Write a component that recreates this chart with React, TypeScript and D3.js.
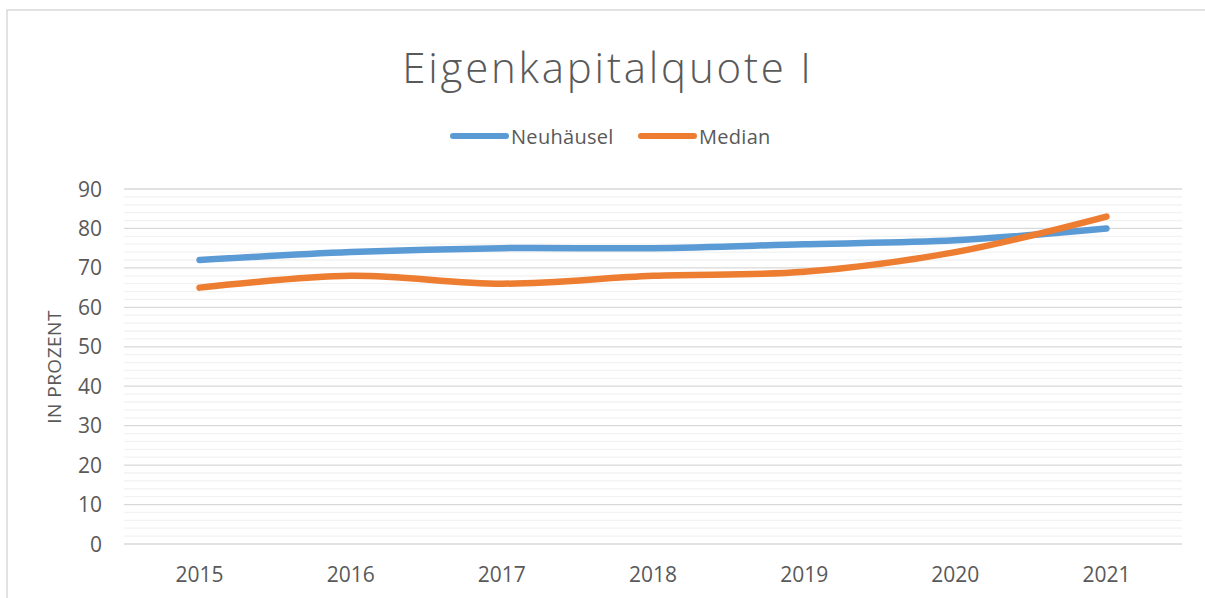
import React from "react";
import * as d3 from "d3";

const years = ["2015", "2016", "2017", "2018", "2019", "2020", "2021"];
const neuhaeusel = [72, 74, 75, 75, 76, 77, 80];
const median = [65, 68, 66, 68, 69, 74, 83];
const yTicks = [0, 10, 20, 30, 40, 50, 60, 70, 80, 90];
const minorTicks = d3.range(0, 91, 2).filter((v) => v % 10 !== 0);

const series = [
  { name: "Neuhäusel", values: neuhaeusel, color: "#5b9bd5" },
  { name: "Median", values: median, color: "#ed7d31" },
];

export default function App() {
  const W = 1205, H = 598;
  const left = 124, right = 1182, top = 189, bottom = 544;
  const x = d3.scaleBand<string>().domain(years).range([left, right]);
  const y = d3.scaleLinear().domain([0, 90]).range([bottom, top]);
  const line = d3
    .line<number>()
    .x((_, i) => (x(years[i]) as number) + x.bandwidth() / 2)
    .y((d) => y(d))
    .curve(d3.curveCatmullRom.alpha(0.5));
  const font = "'Open Sans', sans-serif";
  const txt = "#595959";
  return (
    <svg width={W} height={H} style={{ position: "absolute", left: 0, top: 0 }} fontFamily={font}>
      <rect x={0} y={0} width={W} height={H} fill="#fff" />
      <rect x={7} y={10} width={W + 20} height={H + 20} fill="none" stroke="#d9d9d9" strokeWidth={1.5} />
      <text x={608} y={83} textAnchor="middle" fontSize={42} fill={txt} fontWeight={300} letterSpacing={2.8}>
        Eigenkapitalquote I
      </text>
      {/* legend */}
      {[
        { s: series[0], x0: 453 },
        { s: series[1], x0: 641 },
      ].map(({ s, x0 }) => (
        <g key={s.name}>
          <line x1={x0} x2={x0 + 53} y1={136} y2={136} stroke={s.color} strokeWidth={6} strokeLinecap="round" />
          <text x={x0 + 58} y={143.5} fontSize={20} fill={txt} letterSpacing={0.3}>
            {s.name}
          </text>
        </g>
      ))}
      {/* gridlines */}
      {minorTicks.map((v) => (
        <line key={"m" + v} x1={left} x2={right} y1={y(v)} y2={y(v)} stroke="#f2f2f2" strokeWidth={1.3} />
      ))}
      {yTicks.map((v) => (
        <line key={"g" + v} x1={left} x2={right} y1={y(v)} y2={y(v)} stroke="#d9d9d9" strokeWidth={1.3} />
      ))}
      {yTicks.map((v) => (
        <text key={"t" + v} x={102} y={y(v) + 7.5} textAnchor="end" fontSize={21} fill={txt}>
          {v}
        </text>
      ))}
      {years.map((yr) => (
        <text key={yr} x={(x(yr) as number) + x.bandwidth() / 2} y={582} textAnchor="middle" fontSize={21} fill={txt}>
          {yr}
        </text>
      ))}
      <text transform={`translate(61,367) rotate(-90)`} textAnchor="middle" fontSize={19} fill={txt} letterSpacing={0.5}>
        IN PROZENT
      </text>
      {series.map((s) => (
        <path key={s.name} d={line(s.values) || ""} fill="none" stroke={s.color} strokeWidth={6.5} strokeLinecap="round" strokeLinejoin="round" />
      ))}
    </svg>
  );
}
